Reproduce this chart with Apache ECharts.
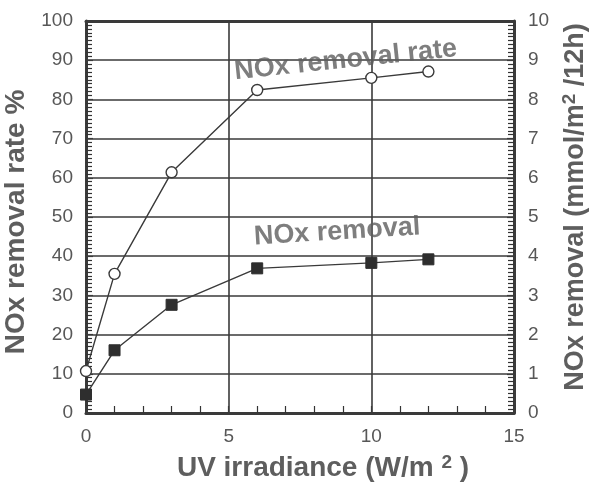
<!DOCTYPE html>
<html>
<head>
<meta charset="utf-8">
<script src="https://cdn.jsdelivr.net/npm/echarts@6/dist/echarts.min.js"></script>
<style>
  html, body { margin: 0; padding: 0; background: #fff; }
  #chart { width: 589px; height: 483px; }
</style>
</head>
<body>
<div id="chart"></div>
<script>
// UV irradiance (W/m2)
const irradiance = [0, 1, 3, 6, 10, 12];
// NOx removal rate, % (left axis)
const removalRate = [10.7, 35.5, 61.4, 82.4, 85.5, 87.1];
// NOx removal, mmol/m2/12h (right axis)
const removalAmount = [0.47, 1.6, 2.76, 3.69, 3.83, 3.92];

// Axis ranges and tick steps
const xTicks = { min: 0, max: 15, step: 5 };
const leftTicks = { min: 0, max: 100, step: 10 };
const rightTicks = { min: 0, max: 10, step: 1 };

// In-plot series captions: [x, y on left scale, text, angle]
const captionRate = [9.1, 90, 'NOx removal rate', 6];
const captionAmount = [8.8, 46.2, 'NOx removal', 3.5];

const FONT = '"Liberation Sans", Arial, sans-serif';
const TEXT = '#575757';
const INK = '#3a3a3a';

const chart = echarts.init(document.getElementById('chart'), null, { renderer: 'canvas' });

const tickLabel = { color: TEXT, fontFamily: FONT, fontSize: 19 };
const titleStyle = { color: '#5e5e5e', fontFamily: FONT, fontSize: 28, fontWeight: 'bold' };
const supStyle = { fontSize: 19, fontWeight: 'bold', color: '#5e5e5e', fontFamily: FONT, padding: [0, 0, 12, 0] };

function caption(c) {
  return {
    type: 'scatter',
    yAxisIndex: 0,
    symbolSize: 0,
    silent: true,
    data: [[c[0], c[1]]],
    label: {
      show: true,
      position: 'inside',
      rotate: c[3],
      formatter: c[2],
      color: '#5e5e5e',
      fontFamily: FONT,
      fontSize: 27,
      fontWeight: 'bold'
    },
    z: 5
  };
}

// Fresh tick settings per axis, all drawn inward
function majorTicks() {
  return { show: true, inside: true, length: 7, lineStyle: { color: INK, width: 1.2 } };
}
function minorTicks(n, len) {
  return { show: true, splitNumber: n, length: len, lineStyle: { color: '#333', width: 1.2 } };
}

chart.setOption({
  animation: false,
  backgroundColor: '#fff',
  grid: {
    left: 86, right: 75, top: 21, bottom: 70,
    outerBoundsMode: 'none'
  },
  xAxis: [
    {
      type: 'value',
      position: 'bottom',
      min: xTicks.min, max: xTicks.max, interval: xTicks.step,
      name: 'UV irradiance (W/m {sup|2} )',
      nameLocation: 'middle',
      nameGap: 40,
      nameTextStyle: Object.assign({}, titleStyle, { padding: [0, 0, 0, 46], rich: { sup: supStyle } }),
      axisLine: { show: true, onZero: false, lineStyle: { color: INK, width: 3 } },
      axisTick: majorTicks(),
      minorTick: minorTicks(5, 7),
      axisLabel: Object.assign({ margin: 14 }, tickLabel),
      splitLine: { show: true, lineStyle: { color: INK, width: 1.6 } }
    },
    {
      // top edge of the frame
      type: 'value',
      position: 'top',
      min: xTicks.min, max: xTicks.max, interval: xTicks.step,
      axisLine: { show: true, onZero: false, lineStyle: { color: INK, width: 3 } },
      axisTick: { show: false },
      axisLabel: { show: false },
      splitLine: { show: false }
    }
  ],
  yAxis: [
    {
      type: 'value',
      position: 'left',
      min: leftTicks.min, max: leftTicks.max, interval: leftTicks.step,
      name: 'NOx removal rate %',
      nameLocation: 'middle',
      nameRotate: 90,
      nameGap: 44,
      nameTextStyle: Object.assign({}, titleStyle, { padding: [0, 10, 0, 0] }),
      axisLine: { show: true, onZero: false, lineStyle: { color: INK, width: 3 } },
      axisTick: majorTicks(),
      minorTick: minorTicks(10, 6),
      axisLabel: Object.assign({ margin: 13 }, tickLabel),
      splitLine: { show: true, lineStyle: { color: INK, width: 1.6 } }
    },
    {
      type: 'value',
      position: 'right',
      min: rightTicks.min, max: rightTicks.max, interval: rightTicks.step,
      name: 'NOx removal (mmol/m{sup|2} /12h)',
      nameLocation: 'middle',
      nameRotate: 90,
      nameGap: 46,
      nameTextStyle: Object.assign({}, titleStyle, { fontSize: 27, padding: [0, 0, 0, 20], rich: { sup: supStyle } }),
      axisLine: { show: true, onZero: false, lineStyle: { color: INK, width: 3 } },
      axisTick: majorTicks(),
      minorTick: minorTicks(10, 6),
      axisLabel: Object.assign({ margin: 14 }, tickLabel),
      splitLine: { show: false }
    }
  ],
  series: [
    {
      name: 'NOx removal rate',
      type: 'line',
      yAxisIndex: 0,
      data: irradiance.map((x, i) => [x, removalRate[i]]),
      symbol: 'circle',
      symbolSize: 11,
      showAllSymbol: true,
      lineStyle: { color: INK, width: 1.4 },
      itemStyle: { color: '#fff', borderColor: INK, borderWidth: 1.4 },
      z: 4
    },
    {
      name: 'NOx removal',
      type: 'line',
      yAxisIndex: 1,
      data: irradiance.map((x, i) => [x, removalAmount[i]]),
      symbol: 'rect',
      symbolSize: 11,
      showAllSymbol: true,
      lineStyle: { color: INK, width: 1.4 },
      itemStyle: { color: '#2e2e2e', borderColor: '#2e2e2e', borderWidth: 1 },
      z: 4
    },
    caption(captionRate),
    caption(captionAmount)
  ]
});
</script>
</body>
</html>
